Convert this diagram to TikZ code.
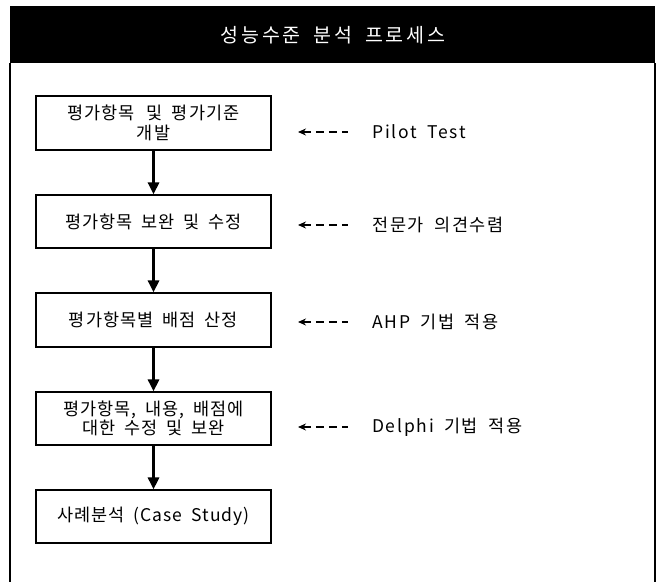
\documentclass[tikz,border=0pt]{standalone}
\usepackage{fontspec}
\setmainfont{Noto Sans CJK KR}[LetterSpace=8,WordSpace=1.8]
\newfontfamily\boxfont{Noto Sans CJK KR}[LetterSpace=6,WordSpace=1.8]
\newfontfamily\hintfont{Noto Sans CJK KR}[LetterSpace=10,WordSpace=1.8]
\newfontfamily\titlefont{Noto Sans CJK KR}[LetterSpace=14,WordSpace=1.8]
\usetikzlibrary{arrows.meta}
\begin{document}
\begin{tikzpicture}[x=1pt,y=-1pt,
  stepbox/.style={draw=black,line width=1.1pt,minimum width=235pt,align=center,
    inner sep=0pt,font=\boxfont\fontsize{17.5}{19.5}\selectfont},
  flow/.style={line width=2.6pt,-{Triangle[length=12pt,width=11pt]}},
  hint/.style={line width=1.5pt,dash pattern=on 8pt off 5pt,
    {Stealth[length=8pt,width=7pt]}-},
  hinttext/.style={anchor=west,inner sep=0pt,font=\hintfont\fontsize{17.5}{19}\selectfont}]
\useasboundingbox (0,0) rectangle (662,582);

% title bar and frame
\fill[black] (10,6) rectangle (655,63);
\node[text=white,font=\titlefont\fontsize{19.5}{21}\selectfont] (title) at (333,35) {성능수준 분석 프로세스};
\draw[line width=1.1pt] (10,63) -- (10,582);
\draw[line width=1.1pt] (655,63) -- (655,582);

% process steps
\node[stepbox,minimum height=54pt] (s1) at (153.5,123) {평가항목 \,및 평가기준\\개발};
\node[stepbox,minimum height=53pt] (s2) at (153.5,221.5) {평가항목 보완 및 수정};
\node[stepbox,minimum height=54pt] (s3) at (153.5,320) {평가항목별 배점 산정};
\node[stepbox,minimum height=53pt] (s4) at (153.5,418.5) {평가항목, 내용, 배점에\\대한 수정 및 보완};
\node[stepbox,minimum height=53pt] (s5) at (153.5,516.5) {사례분석 (Case Study)};

\draw[flow] (s1.south) -- (s2.north);
\draw[flow] (s2.south) -- (s3.north);
\draw[flow] (s3.south) -- (s4.north);
\draw[flow] (s4.south) -- (s5.north);

% supporting methods
\coordinate (h1) at (298,132);
\coordinate (h2) at (298,225);
\coordinate (h3) at (298,322);
\coordinate (h4) at (298,427);
\node[hinttext] (t1) at (372,132) {Pilot Test};
\node[hinttext] (t2) at (372,225) {전문가 의견수렴};
\node[hinttext] (t3) at (372,322) {AHP 기법 적용};
\node[hinttext] (t4) at (372,427) {Delphi 기법 적용};
\draw[hint] (h1) -- ++(50,0);
\draw[hint] (h2) -- ++(50,0);
\draw[hint] (h3) -- ++(50,0);
\draw[hint] (h4) -- ++(50,0);
\end{tikzpicture}
\end{document}
